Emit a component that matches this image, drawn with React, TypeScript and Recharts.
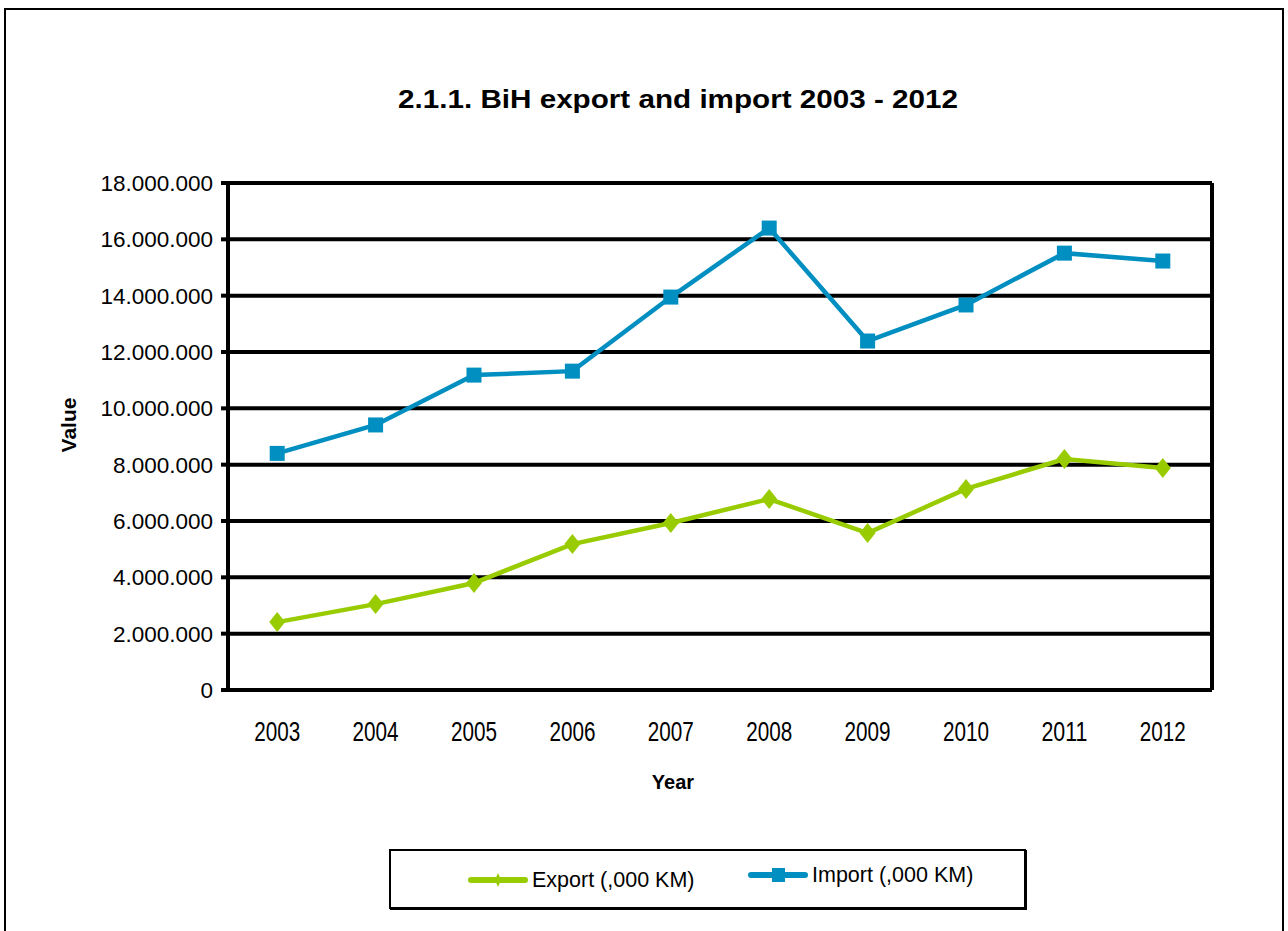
import React from "react";
import {
  LineChart,
  Line,
  XAxis,
  YAxis,
  CartesianGrid,
} from "recharts";

const years = ["2003", "2004", "2005", "2006", "2007", "2008", "2009", "2010", "2011", "2012"];
const exportValues = [2410000, 3050000, 3800000, 5180000, 5930000, 6780000, 5570000, 7140000, 8200000, 7880000];
const importValues = [8400000, 9410000, 11180000, 11320000, 13950000, 16400000, 12390000, 13670000, 15510000, 15230000];
const yTicks = [0, 2000000, 4000000, 6000000, 8000000, 10000000, 12000000, 14000000, 16000000, 18000000];

const data = years.map((year, i) => ({
  year,
  exp: exportValues[i],
  imp: importValues[i],
}));

const exportColor = "#99cc00";
const importColor = "#008fc0";
const font = "'Liberation Sans', Arial, sans-serif";

const fmt = (v: number) => String(v).replace(/\B(?=(\d{3})+(?!\d))/g, ".");

const Diamond = (props: any) => {
  const { cx, cy } = props;
  if (cx == null || cy == null) return null;
  return (
    <polygon
      points={`${cx},${cy - 10} ${cx + 8},${cy} ${cx},${cy + 10} ${cx - 8},${cy}`}
      fill={exportColor}
    />
  );
};

const Square = (props: any) => {
  const { cx, cy } = props;
  if (cx == null || cy == null) return null;
  return <rect x={cx - 7.5} y={cy - 7.5} width={15} height={15} fill={importColor} />;
};

// year labels in the original are tall and narrow
const YearTick = (props: any) => {
  const { x, y, payload } = props;
  return (
    <text
      x={x}
      y={y + 43}
      textAnchor="middle"
      fontSize={28}
      fontFamily={font}
      fill="#000"
      textLength={46}
      lengthAdjust="spacingAndGlyphs"
    >
      {payload.value}
    </text>
  );
};

function LegendBox() {
  return (
    <div
      style={{
        position: "absolute",
        left: 389,
        top: 849,
        width: 637,
        height: 60,
        border: "2px solid #000",
        boxShadow: "1px 1px 0 #000",
        fontFamily: font,
        fontSize: 21.5,
        color: "#000",
        boxSizing: "border-box",
      }}
    >
      <svg width={60} height={20} style={{ position: "absolute", left: 77, top: 19 }}>
        <line x1={3} y1={10} x2={57} y2={10} stroke={exportColor} strokeWidth={6} strokeLinecap="round" />
        <polygon points="30,3 33,10 30,17 27,10" fill={exportColor} />
      </svg>
      <span style={{ position: "absolute", left: 141, top: 17 }}>Export (,000 KM)</span>
      <svg width={60} height={20} style={{ position: "absolute", left: 357, top: 14 }}>
        <line x1={3} y1={10} x2={57} y2={10} stroke={importColor} strokeWidth={6} strokeLinecap="round" />
        <rect x={24} y={3} width={13} height={14} fill={importColor} />
      </svg>
      <span style={{ position: "absolute", left: 421, top: 12 }}>Import (,000 KM)</span>
    </div>
  );
}

export default function App() {
  return (
    <div style={{ position: "absolute", left: 0, top: 0, width: 1288, height: 931, background: "#fff", overflow: "hidden" }}>
      <div
        style={{
          position: "absolute",
          left: 4,
          top: 8,
          width: 1280,
          height: 940,
          border: "2px solid #000",
          boxSizing: "border-box",
        }}
      />
      <svg width={1288} height={140} style={{ position: "absolute", left: 0, top: 0 }}>
        <text
          x={678}
          y={108}
          textAnchor="middle"
          fontFamily={font}
          fontWeight="bold"
          fontSize={25}
          fill="#000"
          textLength={560}
          lengthAdjust="spacingAndGlyphs"
        >
          2.1.1. BiH export and import 2003 - 2012
        </text>
      </svg>
      <div
        style={{
          position: "absolute",
          left: 69,
          top: 425,
          transform: "translate(-50%, -50%) rotate(-90deg)",
          fontFamily: font,
          fontWeight: "bold",
          fontSize: 21,
          color: "#000",
        }}
      >
        Value
      </div>
      <div
        style={{
          position: "absolute",
          left: 673,
          top: 782,
          transform: "translate(-50%, -50%)",
          fontFamily: font,
          fontWeight: "bold",
          fontSize: 20,
          color: "#000",
        }}
      >
        Year
      </div>
      <LineChart
        width={1288}
        height={931}
        data={data}
        margin={{ top: 183, right: 75, bottom: 211, left: 0 }}
        style={{ position: "absolute", left: 0, top: 0 }}
      >
        <CartesianGrid vertical={false} stroke="#000" strokeWidth={4} yAxisId="left" />
        <XAxis
          dataKey="year"
          scale="band"
          height={30}
          axisLine={{ stroke: "#000", strokeWidth: 4 }}
          tickLine={false}
          tick={<YearTick />}
        />
        <YAxis
          yAxisId="left"
          width={228}
          domain={[0, 18000000]}
          ticks={yTicks}
          tickFormatter={fmt}
          axisLine={{ stroke: "#000", strokeWidth: 4 }}
          tickLine={{ stroke: "#000", strokeWidth: 4 }}
          tickSize={7}
          tickMargin={8}
          tick={{ fill: "#000", fontSize: 22.5, fontFamily: font }}
        />
        <YAxis
          yAxisId="right"
          orientation="right"
          width={1}
          domain={[0, 18000000]}
          tick={false}
          tickLine={false}
          axisLine={{ stroke: "#000", strokeWidth: 4 }}
        />
        <Line
          yAxisId="left"
          dataKey="exp"
          name="Export (,000 KM)"
          stroke={exportColor}
          strokeWidth={4.5}
          dot={<Diamond />}
          activeDot={false}
          isAnimationActive={false}
        />
        <Line
          yAxisId="left"
          dataKey="imp"
          name="Import (,000 KM)"
          stroke={importColor}
          strokeWidth={4.5}
          dot={<Square />}
          activeDot={false}
          isAnimationActive={false}
        />
      </LineChart>
      <LegendBox />
    </div>
  );
}
